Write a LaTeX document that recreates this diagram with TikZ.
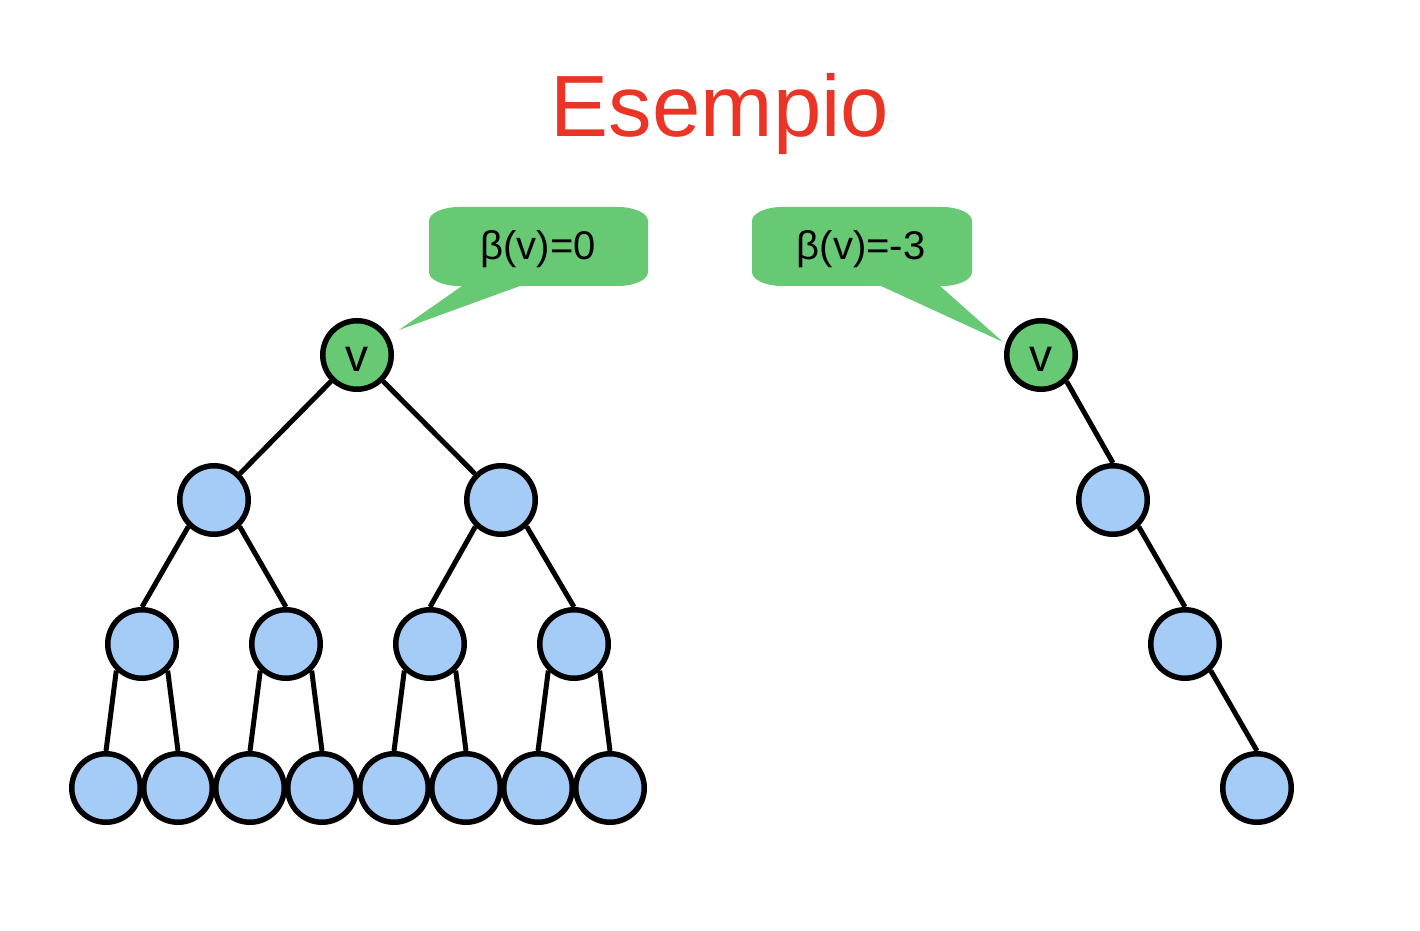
\documentclass[tikz,border=0pt]{standalone}
\usepackage{fontspec}
\setmainfont{Liberation Sans}
\definecolor{callgreen}{RGB}{104,201,116}
\definecolor{nodeblue}{RGB}{164,204,247}
\definecolor{titlered}{RGB}{234,52,37}
\begin{document}
\begin{tikzpicture}[x=1pt,y=1pt,
  tnode/.style={circle,draw=black,line width=5.5pt,minimum size=68.5pt,inner sep=0pt},
  leafnode/.style={tnode,fill=nodeblue},
  rootnode/.style={tnode,fill=callgreen,font=\fontsize{46}{50}\selectfont},
  edge/.style={line width=5pt,black},
  callout/.style={fill=callgreen,draw=none},
  calltext/.style={font=\fontsize{40}{44}\selectfont,inner sep=0pt}]
\useasboundingbox (0,0) rectangle (1420,930);
% title
\node[anchor=base,text=titlered,font=\fontsize{87}{90}\selectfont,inner sep=0pt] (title) at (720,793) {Esempio};
% left callout
\path[callout] (459,723) -- (618,723) arc (90:0:30 and 14) -- (648,658) arc (0:-90:30 and 14)
  -- (520,644) -- (399,600) -- (462,644) -- (459,644) arc (270:180:30 and 14) -- (429,709)
  arc (180:90:30 and 14) -- cycle;
\node[calltext] (c1) at (538,681) {β(v)=0};
% right callout
\path[callout] (782,723) -- (942,723) arc (90:0:30 and 14) -- (972,658) arc (0:-90:30 and 14)
  -- (940,644) -- (1003,588) -- (881,644) -- (782,644) arc (270:180:30 and 14) -- (752,709)
  arc (180:90:30 and 14) -- cycle;
\node[calltext] (c2) at (861,681) {β(v)=-3};
% left tree
\node[rootnode] (r) at (357,575) {\raisebox{-17pt}[0pt][0pt]{v}};
\node[leafnode] (a1) at (214,430) {};
\node[leafnode] (a2) at (501,430) {};
\node[leafnode] (b1) at (142,286) {};
\node[leafnode] (b2) at (286,286) {};
\node[leafnode] (b3) at (430,286) {};
\node[leafnode] (b4) at (574,286) {};
\node[leafnode] (l1) at (106,142) {};
\node[leafnode] (l2) at (178,142) {};
\node[leafnode] (l3) at (250,142) {};
\node[leafnode] (l4) at (322,142) {};
\node[leafnode] (l5) at (394,142) {};
\node[leafnode] (l6) at (466,142) {};
\node[leafnode] (l7) at (538,142) {};
\node[leafnode] (l8) at (610,142) {};
\draw[edge] (r) -- (a1);
\draw[edge] (r) -- (a2);
\draw[edge] (a1.226) -- (b1.90);
\draw[edge] (a1.314) -- (b2.90);
\draw[edge] (a2.226) -- (b3.90);
\draw[edge] (a2.314) -- (b4.90);
\draw[edge] (b1.226) -- (l1.90);
\draw[edge] (b1.314) -- (l2.90);
\draw[edge] (b2.226) -- (l3.90);
\draw[edge] (b2.314) -- (l4.90);
\draw[edge] (b3.226) -- (l5.90);
\draw[edge] (b3.314) -- (l6.90);
\draw[edge] (b4.226) -- (l7.90);
\draw[edge] (b4.314) -- (l8.90);
% right tree
\node[rootnode] (s) at (1041,575) {\raisebox{-17pt}[0pt][0pt]{v}};
\node[leafnode] (s1) at (1113,430) {};
\node[leafnode] (s2) at (1185,286) {};
\node[leafnode] (s3) at (1257,142) {};
\draw[edge] (s.314) -- (s1.90);
\draw[edge] (s1.314) -- (s2.90);
\draw[edge] (s2.314) -- (s3.90);
\end{tikzpicture}
\end{document}
